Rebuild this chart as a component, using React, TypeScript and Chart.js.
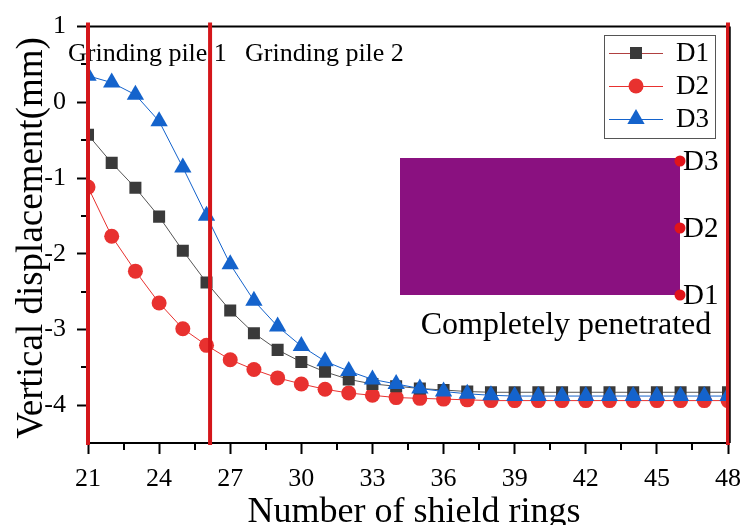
import React, { useEffect, useRef } from 'react';
import { Chart, registerables } from 'chart.js';

Chart.register(...registerables);

const rings = [21, 22, 23, 24, 25, 26, 27, 28, 29, 30, 31, 32, 33, 34, 35, 36, 37, 38, 39, 40, 41, 42, 43, 44, 45, 46, 47, 48];
const d1 = [-0.43, -0.80, -1.13, -1.51, -1.96, -2.38, -2.75, -3.05, -3.27, -3.43, -3.56, -3.66, -3.72, -3.75, -3.78, -3.80, -3.82, -3.83, -3.83, -3.83, -3.83, -3.83, -3.83, -3.83, -3.83, -3.83, -3.83, -3.83];
const d2 = [-1.12, -1.77, -2.23, -2.65, -2.99, -3.21, -3.40, -3.53, -3.64, -3.72, -3.79, -3.84, -3.87, -3.90, -3.91, -3.92, -3.93, -3.94, -3.94, -3.94, -3.94, -3.94, -3.94, -3.94, -3.94, -3.94, -3.94, -3.94];
const d3 = [0.35, 0.26, 0.10, -0.25, -0.86, -1.50, -2.14, -2.62, -2.96, -3.22, -3.42, -3.55, -3.66, -3.72, -3.78, -3.82, -3.85, -3.87, -3.88, -3.88, -3.88, -3.88, -3.88, -3.88, -3.88, -3.88, -3.88, -3.88];
const seriesNames = ['D1', 'D2', 'D3'];
const yTicks = [-4, -3, -2, -1, 0, 1];
const xMinorTicks = [22.5, 25.5, 28.5, 31.5, 34.5, 37.5, 40.5, 43.5, 46.5];
const yMinorTicks = [-3.5, -2.5, -1.5, -0.5, 0.5];
const pileLines = [21, 26.15, 48];
const zoneLabels = ['Grinding pile 1', 'Grinding pile 2'];
const insetLabels = ['D3', 'D2', 'D1'];
const insetCaption = 'Completely penetrated';
const xTitle = 'Number of shield rings';
const yTitle = 'Vertical displacement(mm)';

const SERIF = "'Times New Roman', 'Liberation Serif', 'DejaVu Serif', serif";
const colors = {
  d1: '#3a3a3a',
  d1Line: '#555555',
  d2: '#e8312f',
  d3: '#1463cc',
  red: '#d4161a',
  purple: '#8a1180',
};

const decorPlugin = {
  id: 'decor',
  afterDatasetsDraw(chart: any) {
    const ctx = chart.ctx as CanvasRenderingContext2D;
    const { left, right, top, bottom } = chart.chartArea;
    const xs = chart.scales.x;
    const ys = chart.scales.y;
    ctx.save();

    // minor ticks
    ctx.strokeStyle = '#000';
    ctx.lineWidth = 2;
    xMinorTicks.forEach((v) => {
      const px = Math.round(xs.getPixelForValue(v));
      ctx.beginPath();
      ctx.moveTo(px, bottom);
      ctx.lineTo(px, bottom + 7);
      ctx.stroke();
    });
    yMinorTicks.forEach((v) => {
      const py = Math.round(ys.getPixelForValue(v));
      ctx.beginPath();
      ctx.moveTo(left, py);
      ctx.lineTo(left - 7, py);
      ctx.stroke();
    });

    // frame top / right
    ctx.beginPath();
    ctx.moveTo(left, top);
    ctx.lineTo(right, top);
    ctx.lineTo(right, bottom);
    ctx.stroke();

    // purple inset
    const bx = 400, by = 158, bw = 280, bh = 137;
    ctx.fillStyle = colors.purple;
    ctx.fillRect(bx, by, bw, bh);
    ctx.font = `29px ${SERIF}`;
    ctx.textBaseline = 'middle';
    ctx.textAlign = 'left';
    insetLabels.forEach((t, i) => {
      const cy = by + 3 + i * ((bh - 3) / 2);
      ctx.fillStyle = '#e0141a';
      ctx.beginPath();
      ctx.arc(bx + bw, cy, 5.5, 0, Math.PI * 2);
      ctx.fill();
      ctx.fillStyle = '#000';
      ctx.fillText(t, bx + bw + 3, cy + 1);
    });
    ctx.font = `32px ${SERIF}`;
    ctx.textBaseline = 'alphabetic';
    ctx.textAlign = 'center';
    ctx.fillText(insetCaption, 566, 334);

    // zone labels
    ctx.font = `26px ${SERIF}`;
    ctx.textAlign = 'left';
    ctx.fillText(zoneLabels[0], 68, 61);
    ctx.fillText(zoneLabels[1], 245, 61);

    // legend
    const lx = 604, ly = 35, lw = 111, lh = 103;
    ctx.fillStyle = '#fff';
    ctx.fillRect(lx, ly, lw, lh);
    ctx.strokeStyle = '#555';
    ctx.lineWidth = 1;
    ctx.strokeRect(lx + 0.5, ly + 0.5, lw, lh);
    const legendItems = chart.data.datasets.slice().sort((a: any, b: any) => seriesNames.indexOf(a.label) - seriesNames.indexOf(b.label));
    legendItems.forEach((ds: any, i: number) => {
      const cy = 53 + i * 33;
      ctx.strokeStyle = i === 0 ? '#b04040' : ds.borderColor;
      ctx.lineWidth = 1;
      ctx.beginPath();
      ctx.moveTo(609, cy + 0.5);
      ctx.lineTo(663, cy + 0.5);
      ctx.stroke();
      ctx.fillStyle = ds.pointBackgroundColor;
      const r = ds.pointRadius;
      ctx.beginPath();
      if (ds.pointStyle === 'rect') {
        const s = r * Math.SQRT1_2;
        ctx.rect(636 - s, cy - s, 2 * s, 2 * s);
      } else if (ds.pointStyle === 'circle') {
        ctx.arc(636, cy, r, 0, Math.PI * 2);
      } else {
        ctx.moveTo(636, cy - r);
        ctx.lineTo(636 + r * Math.cos(Math.PI / 6), cy + r / 2);
        ctx.lineTo(636 - r * Math.cos(Math.PI / 6), cy + r / 2);
        ctx.closePath();
      }
      ctx.fill();
      ctx.fillStyle = '#000';
      ctx.font = `27px ${SERIF}`;
      ctx.textAlign = 'left';
      ctx.textBaseline = 'middle';
      ctx.fillText(ds.label, 676, cy + 1);
    });

    // red pile lines
    ctx.strokeStyle = colors.red;
    ctx.lineWidth = 4;
    pileLines.forEach((v) => {
      const px = xs.getPixelForValue(v);
      ctx.beginPath();
      ctx.moveTo(px, top - 4);
      ctx.lineTo(px, bottom + 2);
      ctx.stroke();
    });
    ctx.strokeStyle = '#000';
    ctx.lineWidth = 1.5;
    ctx.beginPath();
    ctx.moveTo(right + 2, top);
    ctx.lineTo(right + 2, bottom);
    ctx.stroke();

    // axis titles
    ctx.fillStyle = '#000';
    ctx.font = `36px ${SERIF}`;
    ctx.textAlign = 'center';
    ctx.textBaseline = 'alphabetic';
    ctx.fillText(xTitle, 414, 522);
    ctx.save();
    ctx.translate(42, 238);
    ctx.rotate(-Math.PI / 2);
    ctx.font = `37px ${SERIF}`;
    ctx.fillText(yTitle, 0, 0);
    ctx.restore();

    ctx.restore();
  },
};

export default function App() {
  const ref = useRef<HTMLCanvasElement | null>(null);
  useEffect(() => {
    document.body.style.margin = '0';
    const canvas = ref.current;
    if (!canvas) return;
    const mk = (vals: number[]) => vals.map((y, i) => ({ x: rings[i], y }));
    const chart = new Chart(canvas, {
      type: 'line',
      data: {
        datasets: [
          {
            label: seriesNames[0],
            data: mk(d1),
            borderColor: colors.d1Line,
            borderWidth: 1,
            pointStyle: 'rect',
            pointRadius: 8.5,
            pointBackgroundColor: colors.d1,
            pointBorderColor: colors.d1,
            pointBorderWidth: 0,
            order: 1,
          },
          {
            label: seriesNames[1],
            data: mk(d2),
            borderColor: colors.d2,
            borderWidth: 1,
            pointStyle: 'circle',
            pointRadius: 7.5,
            pointBackgroundColor: colors.d2,
            pointBorderColor: colors.d2,
            pointBorderWidth: 0,
            order: 2,
          },
          {
            label: seriesNames[2],
            data: mk(d3),
            borderColor: colors.d3,
            borderWidth: 1,
            pointStyle: 'triangle',
            pointRadius: 10,
            pointBackgroundColor: colors.d3,
            pointBorderColor: colors.d3,
            pointBorderWidth: 0,
            order: 0,
          },
        ],
      },
      options: {
        animation: false,
        responsive: false,
        layout: { padding: { top: 22, right: 19, left: 0, bottom: 0 } },
        plugins: { legend: { display: false }, tooltip: { enabled: false } },
        scales: {
          x: {
            type: 'linear',
            min: 21,
            max: 48,
            afterFit: (s: any) => { s.height = 82; },
            ticks: { stepSize: 3, color: '#000', font: { family: SERIF, size: 26 }, padding: 10, maxRotation: 0 },
            grid: { drawOnChartArea: false, drawTicks: true, tickLength: 11, tickWidth: 2, tickColor: '#000' },
            border: { display: true, color: '#000', width: 2 },
          },
          y: {
            type: 'linear',
            min: -4.5,
            max: 1,
            afterFit: (s: any) => { s.width = 88; },
            afterBuildTicks: (s: any) => { s.ticks = yTicks.map((v) => ({ value: v })); },
            ticks: { color: '#000', font: { family: SERIF, size: 26 }, padding: 11 },
            grid: { drawOnChartArea: false, drawTicks: true, tickLength: 11, tickWidth: 2, tickColor: '#000' },
            border: { display: true, color: '#000', width: 2 },
          },
        },
      },
      plugins: [decorPlugin],
    });
    return () => chart.destroy();
  }, []);
  return (
    <div style={{ width: 751, height: 525, background: '#fff' }}>
      <canvas ref={ref} width={751} height={525} />
    </div>
  );
}
